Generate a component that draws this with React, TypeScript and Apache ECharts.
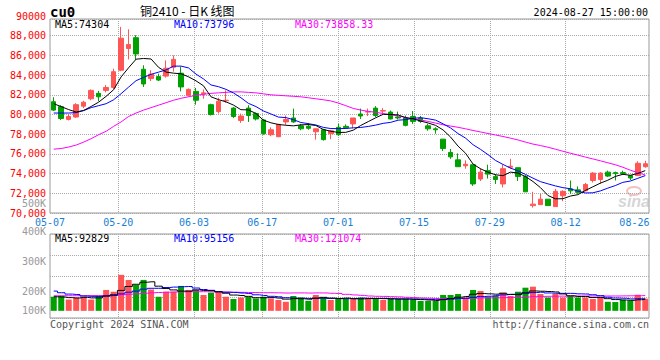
import React, { useEffect, useRef } from 'react';
import * as echarts from 'echarts';

const dates = [
  '05-07','05-08','05-09','05-10','05-13','05-14','05-15','05-16','05-17','05-20','05-21','05-22','05-23','05-24','05-27','05-28','05-29','05-30','05-31',
  '06-03','06-04','06-05','06-06','06-07','06-11','06-12','06-13','06-14','06-17','06-18','06-19','06-20','06-21','06-24','06-25','06-26','06-27','06-28',
  '07-01','07-02','07-03','07-04','07-05','07-08','07-09','07-10','07-11','07-12','07-15','07-16','07-17','07-18','07-19','07-22','07-23','07-24','07-25','07-26','07-29','07-30','07-31',
  '08-01','08-02','08-05','08-06','08-07','08-08','08-09','08-12','08-13','08-14','08-15','08-16','08-19','08-20','08-21','08-22','08-23','08-26','08-27',
];

const labelDates = ['05-07','05-20','06-03','06-17','07-01','07-15','07-29','08-12','08-26'];
const gridDates = ['05-20','06-03','06-17','07-01','07-15','07-29','08-12'];

const opens = [81300,80800,79500,79750,80850,81600,82150,82450,82750,84500,
  86700,87800,84600,83650,83850,83900,84800,84200,81950,82350,
  82100,81000,80300,81400,80650,79400,80650,80100,79450,77950,
  77750,79250,79650,78850,78800,78250,78450,78050,78700,78800,
  79050,80050,80250,80650,80350,80250,79750,79650,79800,79650,
  78850,78550,77500,76150,75400,74800,74900,73450,74300,73700,
  72950,74650,74600,73700,70750,70850,71400,70650,71750,72450,
  72350,72250,73300,73400,74150,74100,74100,73800,73800,74700];
const closes = [80450,79600,79800,81000,81250,82450,81800,82750,84350,87750,
  87100,86150,83100,84100,83500,84700,85600,82800,82550,81450,
  82200,80000,81350,81450,79800,79850,79900,79550,78050,78450,
  79000,79500,79250,78550,78600,78550,77450,78350,77950,78650,
  79650,79850,80300,79900,80400,79550,79650,78900,79300,79300,
  78550,78450,76550,75700,74700,74950,72950,74150,73950,73400,
  74500,74750,73700,72150,70900,71400,70750,72200,72200,72250,
  72100,72900,74050,74050,73750,74000,74000,73550,75050,75000];
const lows = [80350,79450,79400,79650,80650,81450,81350,82250,82600,84400,
  85600,85550,82800,83400,83400,83750,84350,82350,81800,81000,
  81600,79900,80100,81200,79650,79150,79250,79400,77950,77800,
  77700,78950,79150,78400,78450,77450,77350,77500,77850,78550,
  78600,79550,79850,79750,80000,79500,79500,78800,79050,79150,
  78350,78050,76300,75500,74700,74500,72750,73250,73500,72950,
  72600,74500,73250,72150,70550,70850,70750,70650,71200,71950,
  71950,72200,73100,72950,73650,73300,73850,73350,73750,74600];
const highs = [81750,80950,80050,81150,81400,82550,82400,83000,84650,88900,
  88650,88050,85000,84500,84150,85500,86000,84850,82650,82700,
  82550,81100,81700,82450,80750,80100,80950,80200,79550,78700,
  79050,79900,80600,79050,79150,78550,78550,78450,79050,79000,
  79650,80600,80600,80850,80650,80400,80300,79900,80350,79850,
  79050,78700,77500,76500,76050,75350,74900,74550,74900,73950,
  74900,75500,74600,73850,72150,71950,71400,72450,72300,73300,
  72700,73050,74150,74150,74300,74200,74300,73850,75250,75300];

const ma5 = [81100,80800,80500,80250,80420,80820,81260,81850,82520,83820,
  84750,85620,85690,85640,84790,84310,84200,84140,83830,83420,
  82920,81800,81510,81290,80960,80490,80470,80110,79430,79160,
  78990,78910,78850,78950,78980,78890,78480,78300,78180,78190,
  78410,78890,79280,79670,80020,80000,79960,79680,79560,79340,
  79140,78900,78430,77710,76790,76070,74970,74490,74140,73880,
  73790,74150,74060,73700,73200,72580,71780,71440,71450,71720,
  71860,72290,72660,73030,73330,73710,73930,73830,74010,74304];
const ma10 = [80150,80150,80150,80200,80400,80700,80900,81100,81500,82120,
  82785,83440,83770,84080,84305,84530,84910,84915,84735,84105,
  83615,83000,82825,82560,82190,81705,81135,80810,80360,80060,
  79740,79690,79480,79190,79070,78940,78695,78575,78565,78585,
  78650,78685,78790,78925,79105,79205,79425,79480,79615,79680,
  79570,79430,79055,78635,78065,77605,76935,76460,75925,75335,
  74930,74560,74275,73920,73540,73185,72965,72750,72575,72460,
  72220,72035,72050,72240,72525,72785,73110,73245,73520,73796];
const ma30 = [76480,76550,76700,76900,77200,77550,77950,78300,78800,79250,
  79800,80150,80450,80700,80950,81200,81450,81650,81800,81950,
  82050,82150,82200,82250,82300,82300,82250,82200,82100,82000,
  81950,81900,81850,81800,81700,81600,81500,81380,81170,80900,
  80620,80450,80320,80230,80100,79980,79850,79700,79570,79450,
  79300,79130,78960,78830,78700,78550,78380,78230,78070,77920,
  77770,77600,77420,77200,77000,76850,76680,76480,76270,76070,
  75880,75680,75490,75300,75100,74900,74650,74350,74100,73858.33];

const volumes = [112000,118000,90000,104000,112000,90000,118000,166000,152000,286000,
  246000,206000,246000,170000,112000,152000,152000,198000,166000,166000,
  126000,144000,152000,112000,94000,106000,112000,98000,112000,98000,
  86000,72000,118000,106000,80000,126000,106000,86000,94000,94000,
  98000,104000,98000,98000,86000,94000,94000,94000,86000,78000,
  78000,78000,126000,126000,134000,106000,166000,158000,112000,120000,
  144000,118000,152000,184000,192000,134000,106000,134000,106000,118000,
  106000,106000,94000,106000,72000,70000,88000,82000,128000,96000];
const volMa5 = [112000,110000,105000,102000,107200,102800,102800,118000,127600,162400,
  193600,211200,227200,230800,196000,177200,166400,156800,156000,166800,
  161600,160000,150800,140000,125600,121600,115200,104400,104400,105200,
  101200,93200,97200,96000,92400,100400,107200,100800,98400,101200,
  95600,95200,97600,98400,96800,96000,94000,93200,90800,89200,
  86000,82800,89200,97200,108400,114000,131600,138000,135200,132400,
  140000,130400,129200,143600,158000,156000,153600,150000,134400,119600,
  114000,114000,106000,106000,96800,89600,86000,83600,88000,92829];
const volMa10 = [157000,144000,133000,130000,118000,115000,115000,118000,122000,134800,
  148200,157000,172600,179200,179200,185400,188800,192000,193400,181400,
  169400,163200,153800,148000,146200,141600,137600,127600,122200,115400,
  111400,104200,100800,100200,98800,100800,100200,99000,97200,96800,
  98000,101200,99200,98400,99000,95800,94600,95400,94600,93000,
  91000,88400,91200,94000,98800,100000,107200,113600,116200,120400,
  127000,131000,133600,139400,145200,148000,142000,139600,139000,138800,
  135000,133800,128000,120200,108200,101800,100000,94800,97000,95156];
const volMa30 = [120000,120000,120000,120000,120000,121000,121000,122000,123000,128000,
  132000,136000,140000,144000,146000,148000,150000,151000,152000,152000,
  152000,151000,150000,149000,148000,147000,146000,145000,144000,143900,
  143000,141500,142400,142500,141400,142600,142200,139500,137600,131200,
  126300,122900,117900,115500,114700,112700,110800,107300,104700,101700,
  100100,97900,97100,97500,98900,98900,100700,102700,102700,103400,
  105300,106900,108000,110600,114300,114600,115500,116500,117000,117500,
  117800,117900,118000,118000,118000,118000,118800,119500,120300,121074];

const priceTopLabel = '90000';
const volTickLabels = ['500K', '400K', '300K', '200K', '100K'];
const mainLegend = ['MA5:74304', 'MA10:73796', 'MA30:73858.33'];
const volLegend = ['MA5:92829', 'MA10:95156', 'MA30:121074'];

const RED = '#ff5555';
const GREEN = '#00a000';
const MA_COLORS = ['#000000', '#0000ff', '#ff00ff'];
const MONO = '"DejaVu Sans Mono", monospace';
const GRID_LINE = { type: [1, 1] as any, color: '#aaaaaa', width: 1 };

export default function App() {
  const ref = useRef<HTMLDivElement>(null);

  useEffect(() => {
    if (!ref.current) return;
    const chart = echarts.init(ref.current, undefined, { renderer: 'svg' });
    const labelIdx = new Set(labelDates.map((d) => dates.indexOf(d)));
    const gridIdx = new Set(gridDates.map((d) => dates.indexOf(d)));
    const lastLabel = labelDates[labelDates.length - 1];

    const volYs = [203, 231, 261, 291, 310];
    const legendXs = [55, 174, 295];

    const graphic: any[] = [
      { type: 'text', x: 50, y: 12, style: { text: 'cu0', font: `bold 14px ${MONO}`, fill: '#000', textAlign: 'left', textVerticalAlign: 'middle', verticalAlign: 'middle' } },
      { type: 'text', x: 140, y: 10, style: { text: '铜2410 - 日K 线图', font: '12px "Noto Sans CJK SC", sans-serif', fill: '#000', textAlign: 'left', textVerticalAlign: 'middle', verticalAlign: 'middle' } },
      { type: 'text', x: 648, y: 12, style: { text: '2024-08-27 15:00:00', font: `10px ${MONO}`, fill: '#000', textAlign: 'right', textVerticalAlign: 'middle', verticalAlign: 'middle' } },
      { type: 'text', x: 46, y: 16, style: { text: priceTopLabel, font: `10px ${MONO}`, fill: '#ff0000', lineHeight: 10, textAlign: 'right', textVerticalAlign: 'middle', verticalAlign: 'middle' } },
      ...mainLegend.map((t, i) => ({ type: 'text', x: legendXs[i], y: 24.5, z: 100, style: { text: t, font: `10px ${MONO}`, fill: MA_COLORS[i], textAlign: 'left', textVerticalAlign: 'middle', verticalAlign: 'middle' } })),
      ...volLegend.map((t, i) => ({ type: 'text', x: legendXs[i], y: 238.5, z: 100, style: { text: t, font: `10px ${MONO}`, fill: MA_COLORS[i], textAlign: 'left', textVerticalAlign: 'middle', verticalAlign: 'middle' } })),
      ...volTickLabels.map((t, i) => ({ type: 'text', x: 46, y: volYs[i], style: { text: t, font: `10px ${MONO}`, fill: '#999999', lineHeight: 9, textAlign: 'right', textVerticalAlign: 'middle', verticalAlign: 'middle' } })),
      { type: 'text', x: 50, y: 324, style: { text: 'Copyright 2024 SINA.COM', font: `10px ${MONO}`, fill: '#555555', textAlign: 'left', textVerticalAlign: 'middle', verticalAlign: 'middle' } },
      { type: 'text', x: 649, y: 324, style: { text: 'http://finance.sina.com.cn', font: `10px ${MONO}`, fill: '#555555', textAlign: 'right', textVerticalAlign: 'middle', verticalAlign: 'middle' } },
      { type: 'ellipse', shape: { cx: 634, cy: 191, rx: 7, ry: 4 }, z: 0, style: { fill: 'none', stroke: 'rgba(235,140,140,0.55)', lineWidth: 2 } },
      { type: 'text', x: 618, y: 201, z: 0, style: { text: 'sina', font: 'italic bold 16px "Liberation Sans", sans-serif', fill: 'rgba(185,185,185,0.6)', textAlign: 'left', textVerticalAlign: 'middle', verticalAlign: 'middle' } },
    ];

    const option: any = {
      animation: false,
      backgroundColor: '#ffffff',
      grid: [
        { left: 50, top: 19, width: 599, height: 194, show: true, borderColor: '#999999', borderWidth: 1, backgroundColor: 'transparent' },
        { left: 50, top: 234, width: 599, height: 84, show: true, borderColor: '#999999', borderWidth: 1, backgroundColor: 'transparent' },
      ],
      xAxis: [
        { type: 'category', gridIndex: 0, data: dates, boundaryGap: true, show: false, position: 'top' },
        {
          type: 'category', gridIndex: 0, data: dates, boundaryGap: false, position: 'bottom',
          axisLine: { show: false }, axisTick: { show: false },
          axisLabel: {
            interval: (i: number) => labelIdx.has(i),
            color: '#1a7fd4', fontFamily: MONO, fontSize: 10, margin: 4,
            formatter: (v: string) => (v === lastLabel ? `{r|${v}}` : v),
            rich: { r: { color: '#1a7fd4', fontFamily: MONO, fontSize: 10, padding: [0, 14, 0, 0] } },
          },
          splitLine: { show: true, interval: (i: number) => gridIdx.has(i), lineStyle: GRID_LINE },
        },
        { type: 'category', gridIndex: 1, data: dates, boundaryGap: true, show: false, position: 'top' },
        {
          type: 'category', gridIndex: 1, data: dates, boundaryGap: false, position: 'bottom',
          axisLine: { show: false }, axisTick: { show: false }, axisLabel: { show: false },
          splitLine: { show: true, interval: (i: number) => gridIdx.has(i), lineStyle: GRID_LINE },
        },
      ],
      yAxis: [
        {
          type: 'value', gridIndex: 0, min: 70000, max: 89700, interval: 2000,
          axisLine: { show: false }, axisTick: { show: false },
          axisLabel: { color: '#ff0000', fontFamily: MONO, fontSize: 10, lineHeight: 10, margin: 4, showMaxLabel: false },
          splitLine: { show: true, lineStyle: GRID_LINE },
        },
        { type: 'value', gridIndex: 1, min: -57000, max: 611000, show: false, splitLine: { show: false } },
        {
          type: 'value', gridIndex: 1, min: 0, max: 4, interval: 1,
          axisLine: { show: false }, axisTick: { show: false }, axisLabel: { show: false },
          splitLine: { show: true, lineStyle: GRID_LINE },
        },
      ],
      series: [
        {
          type: 'candlestick', xAxisIndex: 0, yAxisIndex: 0, barWidth: 5,
          data: opens.map((o, i) => [o, closes[i], lows[i], highs[i]]),
          itemStyle: { color: RED, color0: GREEN, borderColor: RED, borderColor0: GREEN, borderWidth: 1 },
        },
        ...[ma30, ma10, ma5].map((d, k) => ({
          type: 'line', xAxisIndex: 0, yAxisIndex: 0, data: d, showSymbol: false, symbol: 'none',
          lineStyle: { width: 1, color: MA_COLORS[2 - k] }, z: 3,
        })),
        {
          type: 'bar', xAxisIndex: 2, yAxisIndex: 1, barWidth: 6,
          data: volumes.map((v, i) => ({ value: v, itemStyle: { color: closes[i] >= opens[i] ? RED : GREEN } })),
        },
        ...[volMa30, volMa10, volMa5].map((d, k) => ({
          type: 'line', xAxisIndex: 2, yAxisIndex: 1, data: d, showSymbol: false, symbol: 'none', step: 'middle',
          lineStyle: { width: 1, color: MA_COLORS[2 - k] }, z: 3,
        })),
      ],
      graphic,
    };
    chart.setOption(option);
    return () => chart.dispose();
  }, []);

  return <div ref={ref} style={{ position: 'fixed', left: 0, top: 0, width: 660, height: 360, background: '#fff' }} />;
}
